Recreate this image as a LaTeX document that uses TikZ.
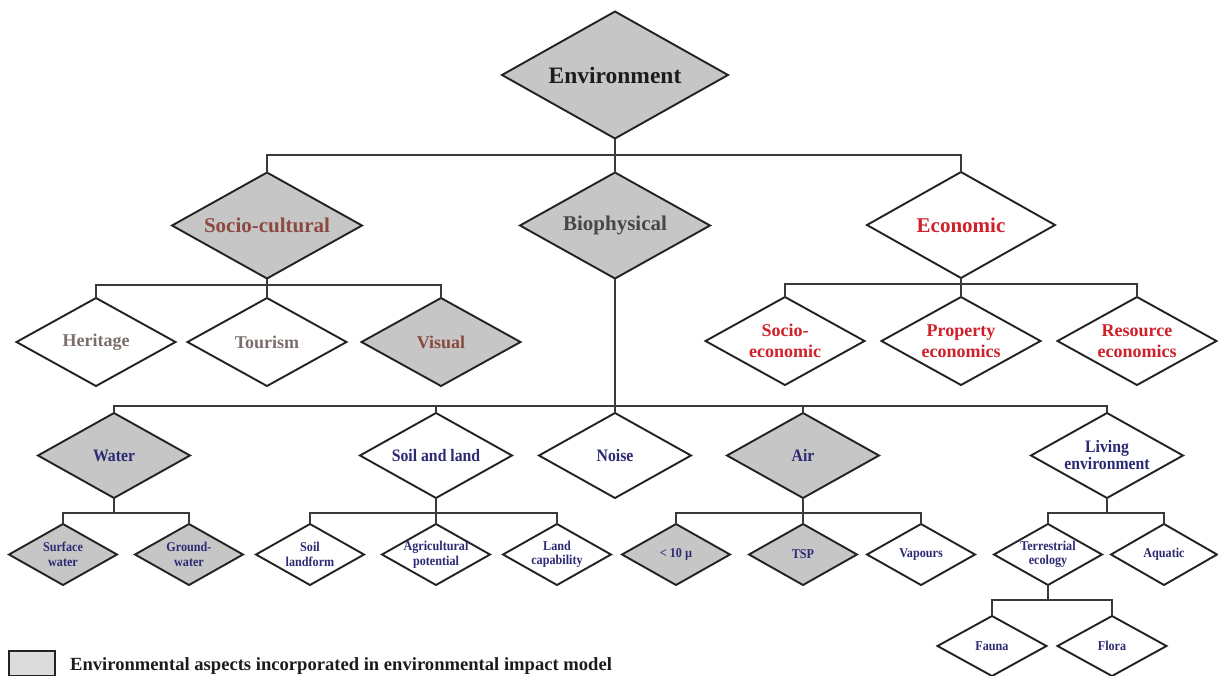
\documentclass[tikz,border=0pt]{standalone}
\usepackage{fontspec}
\setmainfont{Liberation Serif}
\newfontfamily\narrowserif[FakeStretch=0.9]{Liberation Serif}
\usetikzlibrary{shapes.geometric}

\definecolor{boxgray}{HTML}{C6C6C6}
\definecolor{keygray}{HTML}{DCDCDC}
\definecolor{edgecol}{HTML}{222222}
\definecolor{conncol}{HTML}{3A3A3A}
\definecolor{envtext}{HTML}{1C1C1C}
\definecolor{socred}{HTML}{8B4A3F}
\definecolor{socgray}{HTML}{7B6F6C}
\definecolor{biotext}{HTML}{474747}
\definecolor{ecored}{HTML}{D0202A}
\definecolor{navy}{HTML}{2C2A72}

\tikzset{
  dia/.style={diamond, draw=edgecol, line width=1.9pt, inner sep=0pt, outer sep=0pt},
  shaded/.style={fill=boxgray},
  plain/.style={fill=white},
  conn/.style={draw=conncol, line width=1.4pt},
  t0/.style={font=\fontsize{23.5}{26}\selectfont\bfseries, text=envtext},
  t1/.style={font=\fontsize{21}{24}\selectfont\bfseries, align=center},
  t2/.style={font=\fontsize{18}{21}\selectfont\bfseries, align=center},
  t3/.style={font=\narrowserif\fontsize{17.5}{17}\selectfont\bfseries, align=center, text=navy},
  t4/.style={font=\narrowserif\fontsize{13.5}{14.5}\selectfont\bfseries, align=center, text=navy},
  keybox/.style={draw=edgecol, line width=1.5pt, fill=keygray, inner sep=0pt,
    minimum width=46pt, minimum height=25pt},
  keytext/.style={font=\fontsize{18.6}{21}\selectfont\bfseries, text=envtext, inner sep=0pt},
}

% diamond with its caption: name, x, y, width, height, fill style, text style, text
\newcommand\dianode[8]{%
  \node[dia,#6,minimum width=#4pt,minimum height=#5pt] (#1) at (#2,#3) {};
  \node[#7] (#1-t) at (#1.center) {#8};}

\begin{document}
\begin{tikzpicture}[x=1pt,y=-1pt]
\useasboundingbox (0,0) rectangle (1218,675);

% level 0
\dianode{env}{615}{75}{226}{127}{shaded}{t0}{Environment}

% level 1
\dianode{soc}{267}{225.5}{190}{106}{shaded}{t1,text=socred}{Socio-cultural}
\dianode{bio}{615}{225.5}{190}{106}{shaded}{t1,text=biotext}{Biophysical}
\dianode{eco}{961}{225}{188}{106}{plain}{t1,text=ecored}{Economic}

% socio-cultural aspects
\dianode{her}{96}{342}{159}{88}{plain}{t2,text=socgray}{Heritage}
\dianode{tou}{267}{342}{159}{88}{plain}{t2,text=socgray}{Tourism}
\dianode{vis}{441}{342}{159}{88}{shaded}{t2,text=socred}{Visual}

% economic aspects
\dianode{seco}{785}{341}{159}{88}{plain}{t2,text=ecored}{Socio-\\economic}
\dianode{prop}{961}{341}{159}{88}{plain}{t2,text=ecored}{Property\\economics}
\dianode{reso}{1137}{341}{159}{88}{plain}{t2,text=ecored}{Resource\\economics}

% biophysical aspects
\dianode{wat}{114}{455.5}{152}{85}{shaded}{t3}{Water}
\dianode{soi}{436}{455.5}{152}{85}{plain}{t3}{Soil and land}
\dianode{noi}{615}{455.5}{152}{85}{plain}{t3}{Noise}
\dianode{air}{803}{455.5}{152}{85}{shaded}{t3}{Air}
\dianode{liv}{1107}{455.5}{152}{85}{plain}{t3}{Living\\environment}

% level 4
\dianode{sw}{63}{554.5}{108}{61}{shaded}{t4}{Surface\\water}
\dianode{gw}{189}{554.5}{108}{61}{shaded}{t4}{Ground-\\water}
\dianode{sl}{310}{554.5}{108}{61}{plain}{t4}{Soil\\landform}
\dianode{ag}{436}{554.5}{108}{61}{plain}{t4}{Agricultural\\potential}
\dianode{lc}{557}{554.5}{108}{61}{plain}{t4}{Land\\capability}
\dianode{pm}{676}{554.5}{108}{61}{shaded}{t4}{\textless{} 10 µ}
\dianode{tsp}{803}{554.5}{108}{61}{shaded}{t4}{TSP}
\dianode{vap}{921}{554.5}{108}{61}{plain}{t4}{Vapours}
\dianode{ter}{1048}{554.5}{108}{61}{plain}{t4}{Terrestrial\\ecology}
\dianode{aq}{1164}{554.5}{106}{61}{plain}{t4}{Aquatic}

% level 5
\dianode{fau}{992}{646}{109}{60}{plain}{t4}{Fauna}
\dianode{flo}{1112}{646}{109}{60}{plain}{t4}{Flora}

% bar heights
\coordinate (b0) at (0,155);
\coordinate (b1) at (0,285);
\coordinate (b2) at (0,284);
\coordinate (b3) at (0,406);
\coordinate (b4) at (0,513);
\coordinate (b5) at (0,600);

% connectors
\draw[conn] (env.south) -- (env.south |- b0);
\draw[conn] (soc.north) -- (soc.north |- b0) -- (eco.north |- b0) -- (eco.north);
\draw[conn] (bio.north) -- (bio.north |- b0);

\draw[conn] (soc.south) -- (soc.south |- b1);
\draw[conn] (her.north) -- (her.north |- b1) -- (vis.north |- b1) -- (vis.north);
\draw[conn] (tou.north) -- (tou.north |- b1);

\draw[conn] (eco.south) -- (eco.south |- b2);
\draw[conn] (seco.north) -- (seco.north |- b2) -- (reso.north |- b2) -- (reso.north);
\draw[conn] (prop.north) -- (prop.north |- b2);

\draw[conn] (bio.south) -- (bio.south |- b3);
\draw[conn] (wat.north) -- (wat.north |- b3) -- (liv.north |- b3) -- (liv.north);
\draw[conn] (soi.north) -- (soi.north |- b3);
\draw[conn] (noi.north) -- (noi.north |- b3);
\draw[conn] (air.north) -- (air.north |- b3);

\draw[conn] (wat.south) -- (wat.south |- b4);
\draw[conn] (sw.north) -- (sw.north |- b4) -- (gw.north |- b4) -- (gw.north);

\draw[conn] (soi.south) -- (soi.south |- b4);
\draw[conn] (sl.north) -- (sl.north |- b4) -- (lc.north |- b4) -- (lc.north);
\draw[conn] (ag.north) -- (ag.north |- b4);

\draw[conn] (air.south) -- (air.south |- b4);
\draw[conn] (pm.north) -- (pm.north |- b4) -- (vap.north |- b4) -- (vap.north);
\draw[conn] (tsp.north) -- (tsp.north |- b4);

\draw[conn] (liv.south) -- (liv.south |- b4);
\draw[conn] (ter.north) -- (ter.north |- b4) -- (aq.north |- b4) -- (aq.north);

\draw[conn] (ter.south) -- (ter.south |- b5);
\draw[conn] (fau.north) -- (fau.north |- b5) -- (flo.north |- b5) -- (flo.north);

% key
\node[keybox] (key) at (32,663.5) {};
\node[keytext, anchor=base west] (keylabel) at (70,670)
  {Environmental aspects incorporated in environmental impact model};
\end{tikzpicture}
\end{document}
